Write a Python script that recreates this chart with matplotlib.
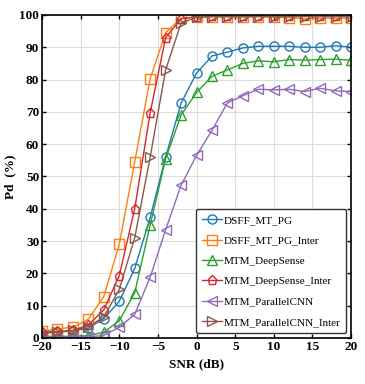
import matplotlib
matplotlib.use('Agg')
import matplotlib.pyplot as plt
import numpy as np

snr = np.arange(-20, 21, 2)

dsff_mt_pg = [1.5, 1.8, 2.2, 3.0, 6.0, 11.3, 21.5, 37.3, 56.0, 72.7, 82.0,
              87.3, 88.5, 89.8, 90.3, 90.3, 90.3, 90.0, 90.0, 90.5, 90.0]
dsff_mt_pg_inter = [2.0, 2.8, 3.3, 5.8, 12.8, 29.0, 54.5, 80.3, 94.5, 99.0, 99.3,
                    99.4, 99.4, 99.3, 99.5, 99.3, 99.2, 98.8, 99.0, 99.0, 99.0]
mtm_deepsense = [0.5, 0.5, 0.5, 0.7, 1.8, 5.3, 14.0, 35.0, 55.5, 69.0, 76.0,
                 81.0, 83.0, 85.0, 85.8, 85.5, 86.2, 86.0, 86.2, 86.3, 86.0]
mtm_deepsense_inter = [1.8, 2.0, 2.3, 4.0, 8.7, 19.3, 40.0, 69.7, 93.0, 98.8, 99.5,
                       99.6, 99.6, 99.6, 99.6, 99.6, 99.6, 99.6, 99.6, 99.6, 99.6]
mtm_parallelcnn = [0.3, 0.3, 0.3, 0.3, 0.8, 3.3, 7.3, 18.8, 33.5, 47.3, 56.5,
                   64.3, 72.8, 75.0, 77.0, 76.8, 77.0, 76.3, 77.3, 76.5, 76.3]
mtm_parallelcnn_inter = [1.5, 1.8, 2.3, 3.5, 6.5, 15.0, 31.0, 56.0, 83.0, 97.5, 99.3,
                         99.5, 99.5, 99.5, 99.5, 99.5, 99.5, 99.5, 99.5, 99.5, 99.5]

series = [
    ('DSFF_MT_PG', dsff_mt_pg, '#1f77b4', 'o'),
    ('DSFF_MT_PG_Inter', dsff_mt_pg_inter, '#ff7f0e', 's'),
    ('MTM_DeepSense', mtm_deepsense, '#2ca02c', '^'),
    ('MTM_DeepSense_Inter', mtm_deepsense_inter, '#d62728', 'p'),
    ('MTM_ParallelCNN', mtm_parallelcnn, '#9467bd', '<'),
    ('MTM_ParallelCNN_Inter', mtm_parallelcnn_inter, '#8c564b', '>'),
]

plt.rcParams['font.family'] = ['Liberation Serif', 'DejaVu Serif']

fig = plt.figure(figsize=(3.65, 3.84), dpi=100)
ax = fig.add_axes([0.115, 0.12, 0.847, 0.841])

for name, vals, col, mk in series:
    ax.plot(snr, vals, color=col, marker=mk, markersize=6.5, markerfacecolor='none',
            markeredgewidth=1.0, linewidth=1.0, label=name)

ax.set_xlim(-20, 20)
ax.set_ylim(0, 100)
ax.set_xticks(np.arange(-20, 21, 5))
ax.set_yticks(np.arange(0, 101, 10))
ax.set_xticklabels(['\u221220', '\u221215', '\u221210', '\u22125', '0', '5', '10', '15', '20'])
ax.grid(True, color='#dddddd', linewidth=0.8)
ax.tick_params(direction='in', top=True, right=True, labelsize=9.5, width=1.0, length=3, pad=2)
for lab in ax.get_xticklabels() + ax.get_yticklabels():
    lab.set_fontweight('bold')
for sp in ax.spines.values():
    sp.set_linewidth(1.2)

ax.set_xlabel('SNR (dB)', fontweight='bold', fontsize=9.5, labelpad=4)
ax.set_ylabel('Pd  (%)', fontweight='bold', fontsize=9.5, labelpad=2)

leg = ax.legend(loc='lower right', fontsize=8, handlelength=1.8, handletextpad=0.1,
                labelspacing=0.95, borderpad=0.55, borderaxespad=0.45, fancybox=True)
leg.get_frame().set_edgecolor('#333333')
leg.get_frame().set_linewidth(1.0)
leg.get_frame().set_alpha(1.0)

fig.savefig('out.png', dpi=100)
